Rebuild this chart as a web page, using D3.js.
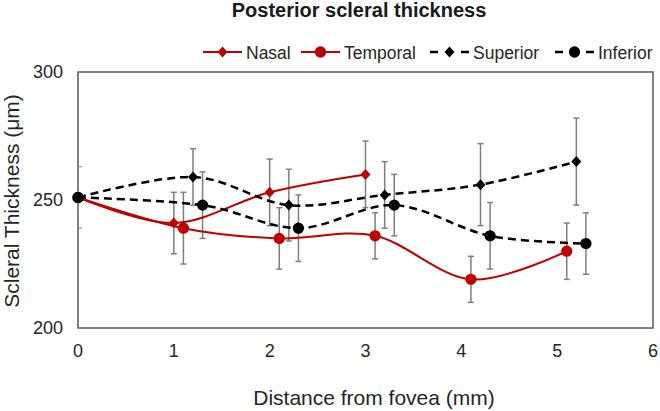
<!DOCTYPE html>
<html>
<head>
<meta charset="utf-8">
<script src="https://cdn.jsdelivr.net/npm/d3@7"></script>
<style>
  body { margin: 0; background: #fff; }
  svg { display: block; font-family: "Liberation Sans", Arial, sans-serif; }
</style>
</head>
<body>
<svg id="chart"></svg>
<script>
// data
var seriesNames = ['Nasal', 'Temporal', 'Superior', 'Inferior'];

var nasalX = [0, 1, 2, 3],
  nasalY = [251, 241, 253, 260],
  nasalSD = [0, 12, 13, 13];

var temporalX = [0, 1.1, 2.1, 3.1, 4.1, 5.1],
  temporalY = [251, 239, 235, 236, 219, 230],
  temporalSD = [0, 14, 12, 9, 9, 11];

var superiorX = [0, 1.2, 2.2, 3.2, 4.2, 5.2],
  superiorY = [251, 259, 248, 252, 256, 265],
  superiorSD = [0, 11, 14, 13, 16, 17];

var inferiorX = [0, 1.3, 2.3, 3.3, 4.3, 5.3],
  inferiorY = [251, 248, 239, 248, 236, 233],
  inferiorSD = [0, 13, 13, 12, 13, 12];

var xTicks = [0, 1, 2, 3, 4, 5, 6],
  yTicks = [200, 250, 300],
  yMinorTicks = [239, 263];

var vWidth = 660,
  vHeight = 411,
  margin = {top: 72, right: 7, bottom: 83, left: 78},
  red = '#c00000';

// one style entry per series, built from the arrays above
var series = [
  {name: seriesNames[0], x: nasalX, y: nasalY, sd: nasalSD, color: red, dash: null, shape: 'diamond'},
  {name: seriesNames[1], x: temporalX, y: temporalY, sd: temporalSD, color: red, dash: null, shape: 'circle'},
  {name: seriesNames[2], x: superiorX, y: superiorY, sd: superiorSD, color: '#000', dash: '8,5', shape: 'diamond'},
  {name: seriesNames[3], x: inferiorX, y: inferiorY, sd: inferiorSD, color: '#000', dash: '8,5', shape: 'circle'}
];

var svg = d3.select('#chart')
  .attr('width', vWidth)
  .attr('height', vHeight);

var x = d3.scaleLinear().domain([0, 6]).range([margin.left, vWidth - margin.right]);
var y = d3.scaleLinear().domain([200, 300]).range([vHeight - margin.bottom, margin.top]);

//plot frame
svg.append('rect')
  .attr('x', x(0))
  .attr('y', y(300))
  .attr('width', x(6) - x(0))
  .attr('height', y(200) - y(300))
  .attr('fill', 'none')
  .attr('stroke', '#595959')
  .attr('stroke-width', 1.5);

svg.selectAll('.minor')
  .data(yMinorTicks)
  .enter()
  .append('line')
  .attr('x1', x(0))
  .attr('x2', x(0) + 4)
  .attr('y1', function (d) { return y(d); })
  .attr('y2', function (d) { return y(d); })
  .attr('stroke', '#7f7f7f')
  .attr('stroke-width', 1);

//tick labels
svg.selectAll('.ytick')
  .data(yTicks)
  .enter()
  .append('text')
  .attr('x', x(0) - 15)
  .attr('y', function (d) { return y(d); })
  .attr('dy', '0.35em')
  .attr('text-anchor', 'end')
  .attr('font-size', 18)
  .attr('fill', '#262626')
  .text(function (d) { return d; });

svg.selectAll('.xtick')
  .data(xTicks)
  .enter()
  .append('text')
  .attr('x', function (d) { return x(d); })
  .attr('y', 357)
  .attr('text-anchor', 'middle')
  .attr('font-size', 18)
  .attr('fill', '#262626')
  .text(function (d) { return d; });

//titles
svg.append('text')
  .attr('x', 359)
  .attr('y', 17)
  .attr('text-anchor', 'middle')
  .attr('font-size', 20)
  .attr('font-weight', 'bold')
  .attr('fill', '#1a1a1a')
  .text('Posterior scleral thickness');

svg.append('text')
  .attr('x', 374)
  .attr('y', 405)
  .attr('text-anchor', 'middle')
  .attr('font-size', 21)
  .attr('fill', '#262626')
  .text('Distance from fovea (mm)');

svg.append('text')
  .attr('transform', 'translate(19,201)rotate(-90)')
  .attr('text-anchor', 'middle')
  .attr('font-size', 21)
  .attr('fill', '#262626')
  .text('Scleral Thickness (μm)');

//markers
var diamondType = {
  draw: function (ctx, size) {
    var w = Math.sqrt(size) / 2, h = w * 1.1;
    ctx.moveTo(0, -h);
    ctx.lineTo(w, 0);
    ctx.lineTo(0, h);
    ctx.lineTo(-w, 0);
    ctx.closePath();
  }
};
var diamond = d3.symbol().type(diamondType).size(100);
var circle = d3.symbol().type(d3.symbolCircle).size(100);

function drawMarker(sel, s) {
  sel.attr('d', s.shape === 'circle' ? circle : diamond)
    .attr('fill', s.color);
}

var line = d3.line()
  .x(function (d) { return x(d[0]); })
  .y(function (d) { return y(d[1]); })
  .curve(d3.curveCardinal.tension(0));

//error bars first, then lines and points per series
series.forEach(function (s) {
  var pts = s.x.map(function (d, i) { return [d, s.y[i], s.sd[i]]; });
  var bars = svg.append('g')
    .selectAll('g')
    .data(pts.filter(function (d) { return d[2] > 0; }))
    .enter()
    .append('g')
    .attr('stroke', '#7f7f7f')
    .attr('stroke-width', 1.5);
  bars.append('line')
    .attr('x1', function (d) { return x(d[0]); })
    .attr('x2', function (d) { return x(d[0]); })
    .attr('y1', function (d) { return y(d[1] - d[2]); })
    .attr('y2', function (d) { return y(d[1] + d[2]); });
  [-1, 1].forEach(function (k) {
    bars.append('line')
      .attr('x1', function (d) { return x(d[0]) - 3; })
      .attr('x2', function (d) { return x(d[0]) + 3; })
      .attr('y1', function (d) { return y(d[1] + k * d[2]); })
      .attr('y2', function (d) { return y(d[1] + k * d[2]); });
  });
});

series.forEach(function (s) {
  var pts = s.x.map(function (d, i) { return [d, s.y[i]]; });
  svg.append('path')
    .datum(pts)
    .attr('d', line)
    .attr('fill', 'none')
    .attr('stroke', s.color)
    .attr('stroke-width', s.dash ? 2.5 : 2)
    .attr('stroke-dasharray', s.dash);
  svg.append('g')
    .selectAll('path')
    .data(pts)
    .enter()
    .append('path')
    .attr('transform', function (d) { return 'translate(' + x(d[0]) + ',' + y(d[1]) + ')'; })
    .call(drawMarker, s);
});

//legend
var legendX = [203, 301, 430, 555];
var legend = svg.selectAll('.legend')
  .data(series)
  .enter()
  .append('g')
  .attr('transform', function (d, i) { return 'translate(' + legendX[i] + ',52)'; });

legend.append('line')
  .attr('x1', 0)
  .attr('x2', 39)
  .attr('stroke', function (d) { return d.color; })
  .attr('stroke-width', function (d) { return d.dash ? 2.5 : 2; })
  .attr('stroke-dasharray', function (d) { return d.dash ? '8,23,8' : null; });

legend.append('path')
  .attr('transform', 'translate(19.5,0)')
  .each(function (d) { drawMarker(d3.select(this), d); });

legend.append('text')
  .attr('x', 43)
  .attr('y', 7)
  .attr('font-size', 17.5)
  .attr('fill', '#262626')
  .text(function (d) { return d.name; });
</script>
</body>
</html>
